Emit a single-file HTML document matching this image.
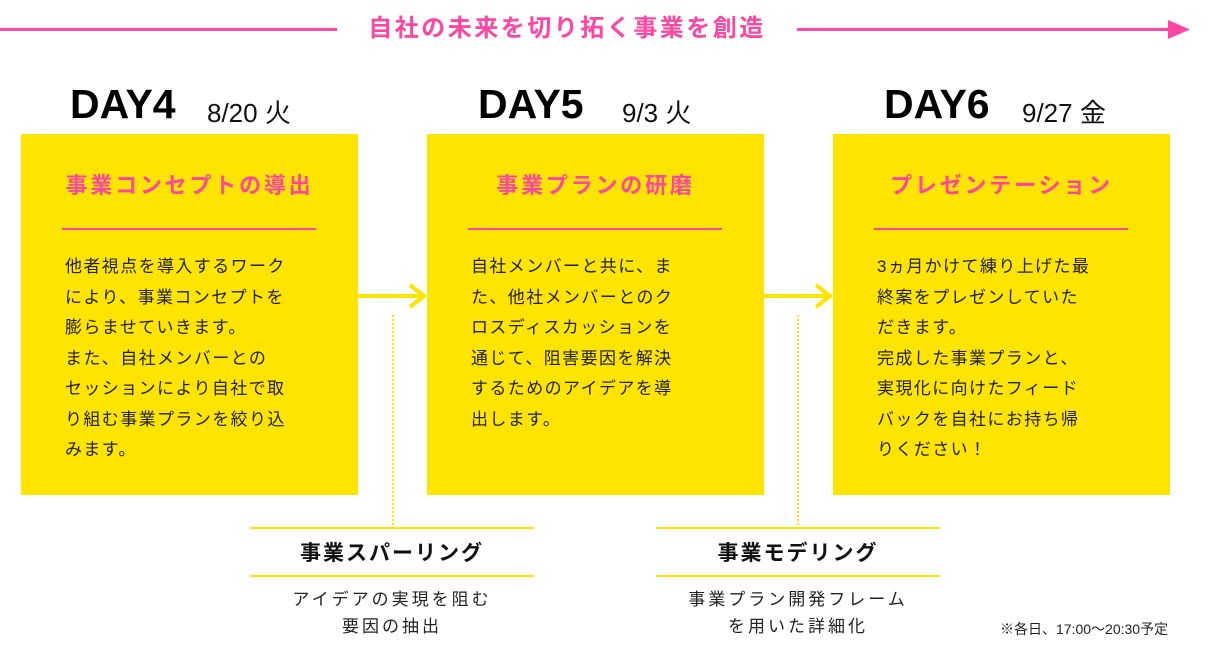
<!DOCTYPE html>
<html><head><meta charset="utf-8"><style>
body{margin:0;width:1218px;height:651px;background:#fff;position:relative;overflow:hidden;font-family:"Liberation Sans","Noto Sans CJK JP",sans-serif;}
.a{position:absolute}
.box{position:absolute;top:134px;width:337px;height:361px;background:#ffe400}
.h{position:absolute;left:0;width:100%;top:34px;text-align:center;color:#ff46a0;font-weight:bold;font-size:22px;letter-spacing:2.8px}
.hl{position:absolute;left:41px;width:254px;top:94px;height:2px;background:#ff46a0}
.t{position:absolute;left:44px;top:118px;font-size:17px;line-height:30.5px;letter-spacing:1.4px;color:#222;white-space:nowrap}
.day{position:absolute;top:81px;font-size:41px;font-weight:bold;color:#000}
.dt{position:absolute;top:93px;font-size:26px;color:#111}
.yl{position:absolute;height:2px;background:#ffe400}
.sub{position:absolute;width:284px;text-align:center;color:#222}
</style></head><body>
<div class="a" style="left:0;top:28px;width:337px;height:3px;background:#ff46a0"></div>
<div class="a" style="left:797px;top:28px;width:376px;height:3px;background:#ff46a0"></div>
<svg class="a" style="left:1168px;top:20px" width="24" height="20"><polygon points="0,0 22,9.5 0,19" fill="#ff46a0"/></svg>
<div class="a" style="left:337px;width:460px;top:8px;text-align:center;color:#ff46a0;font-weight:bold;font-size:24px;letter-spacing:2.5px">自社の未来を切り拓く事業を創造</div>

<div class="day" style="left:70px">DAY4</div><div class="dt" style="left:207px">8/20 火</div>
<div class="day" style="left:478px">DAY5</div><div class="dt" style="left:622px">9/3 火</div>
<div class="day" style="left:884px">DAY6</div><div class="dt" style="left:1022px">9/27 金</div>

<div class="box" style="left:21px"><div class="h">事業コンセプトの導出</div><div class="hl"></div>
<div class="t">他者視点を導入するワーク<br>により、事業コンセプトを<br>膨らませていきます。<br>また、自社メンバーとの<br>セッションにより自社で取<br>り組む事業プランを絞り込<br>みます。</div></div>
<div class="box" style="left:427px"><div class="h">事業プランの研磨</div><div class="hl"></div>
<div class="t">自社メンバーと共に、ま<br>た、他社メンバーとのク<br>ロスディスカッションを<br>通じて、阻害要因を解決<br>するためのアイデアを導<br>出します。</div></div>
<div class="box" style="left:833px"><div class="h">プレゼンテーション</div><div class="hl"></div>
<div class="t">3ヵ月かけて練り上げた最<br>終案をプレゼンしていた<br>だきます。<br>完成した事業プランと、<br>実現化に向けたフィード<br>バックを自社にお持ち帰<br>りください！</div></div>

<svg class="a" style="left:358px;top:282px" width="72" height="30"><line x1="0" y1="14" x2="66" y2="14" stroke="#ffe400" stroke-width="4"/><polyline points="52,3 66,14 52,25" fill="none" stroke="#ffe400" stroke-width="4"/></svg>
<svg class="a" style="left:764px;top:282px" width="72" height="30"><line x1="0" y1="14" x2="66" y2="14" stroke="#ffe400" stroke-width="4"/><polyline points="52,3 66,14 52,25" fill="none" stroke="#ffe400" stroke-width="4"/></svg>
<div class="a" style="left:392px;top:315px;height:210px;border-left:2px dotted #ffe400"></div>
<div class="a" style="left:797px;top:315px;height:210px;border-left:2px dotted #ffe400"></div>

<div class="yl" style="left:250px;top:527px;width:284px"></div><div class="yl" style="left:250px;top:575px;width:284px"></div>
<div class="sub" style="left:250px;top:537px;font-weight:bold;font-size:21px;letter-spacing:2px;color:#111">事業スパーリング</div>
<div class="sub" style="left:250px;top:586px;font-size:17px;line-height:27px;letter-spacing:3px">アイデアの実現を阻む<br>要因の抽出</div>
<div class="yl" style="left:656px;top:527px;width:284px"></div><div class="yl" style="left:656px;top:575px;width:284px"></div>
<div class="sub" style="left:656px;top:537px;font-weight:bold;font-size:21px;letter-spacing:2px;color:#111">事業モデリング</div>
<div class="sub" style="left:656px;top:586px;font-size:17px;line-height:27px;letter-spacing:3px">事業プラン開発フレーム<br>を用いた詳細化</div>
<div class="a" style="left:1000px;top:619px;font-size:14px;letter-spacing:0px;color:#222">※各日、17:00〜20:30予定</div>
</body></html>
